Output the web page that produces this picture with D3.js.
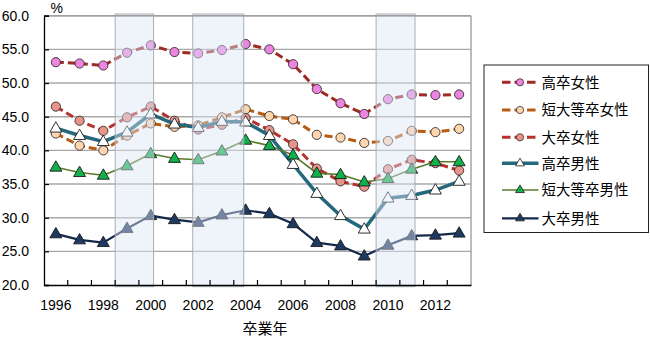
<!DOCTYPE html>
<html>
<head>
<meta charset="utf-8">
<script src="https://cdn.jsdelivr.net/npm/d3@7"></script>
<style>
  html, body { margin: 0; padding: 0; background: #fff; }
  svg { display: block; }
  .num { font-family: "Liberation Sans", Arial, sans-serif; }
  .jp { font-family: "Noto Sans CJK JP", "Noto Sans", sans-serif; }
</style>
</head>
<body>
<svg id="chart" width="650" height="339"></svg>
<script>
// Graduation years and rates (%) by education and gender
const years = d3.range(1996, 2014);
const seriesNames = ["高卒女性", "短大等卒女性", "大卒女性", "高卒男性", "短大等卒男性", "大卒男性"];
const hsFemale  = [53.1, 52.9, 52.6, 54.5, 55.6, 54.6, 54.4, 54.9, 55.8, 55.0, 52.8, 49.1, 47.0, 45.4, 47.6, 48.3, 48.2, 48.3];
const jcFemale  = [42.5, 40.7, 40.0, 42.2, 44.0, 43.5, 43.7, 44.9, 46.1, 45.1, 44.6, 42.3, 41.9, 41.1, 41.4, 42.9, 42.7, 43.2];
const uniFemale = [46.5, 44.4, 42.9, 44.9, 46.5, 44.4, 43.1, 43.8, 44.8, 43.0, 40.9, 37.3, 35.4, 34.6, 37.2, 38.6, 38.1, 37.0];
const hsMale    = [43.3, 42.2, 41.3, 42.7, 45.4, 43.9, 43.4, 44.3, 44.2, 42.2, 37.9, 33.6, 30.3, 28.3, 32.9, 33.3, 34.1, 35.4];
const jcMale    = [37.5, 36.7, 36.3, 37.7, 39.5, 38.8, 38.6, 39.9, 41.5, 40.7, 39.3, 36.6, 36.4, 35.3, 35.8, 37.2, 38.3, 38.3];
const uniMale   = [27.6, 26.7, 26.3, 28.4, 30.3, 29.7, 29.3, 30.4, 31.1, 30.6, 29.1, 26.3, 25.8, 24.3, 25.9, 27.3, 27.4, 27.7];
const yTicks = [20, 25, 30, 35, 40, 45, 50, 55, 60];
const xLabelYears = [1996, 1998, 2000, 2002, 2004, 2006, 2008, 2010, 2012];
// Shaded periods, in fractional graduation years
const shadeStart = [1998.5, 2001.77, 2009.5];
const shadeEnd   = [2000.12, 2003.92, 2011.14];

const seriesValues = [hsFemale, jcFemale, uniFemale, hsMale, jcMale, uniMale];
const styles = [
  { line: "#9e2a26", fill: "#ec84e2", dash: "8,4", width: 3,   shape: "circle" },
  { line: "#b85c12", fill: "#fdd6b0", dash: "8,4", width: 3,   shape: "circle" },
  { line: "#b5322e", fill: "#e7958b", dash: "8,4", width: 3,   shape: "circle" },
  { line: "#23687b", fill: "#ffffff", dash: null,  width: 3.5, shape: "triangle" },
  { line: "#5b7a2a", fill: "#10b04a", dash: null,  width: 1.6, shape: "triangle" },
  { line: "#14294a", fill: "#1e3a62", dash: null,  width: 2.2, shape: "triangle" }
];

const svg = d3.select("#chart");
const plotL = 44, plotR = 471, plotT = 15.7, plotB = 285;

const x = d3.scaleBand().domain(years).range([plotL, plotR]).padding(0);
const step = x.step();
const xc = yr => x(yr) + step / 2;
const xLin = d3.scaleLinear().domain([1996, 2013]).range([xc(1996), xc(2013)]);
const y = d3.scaleLinear().domain([20, 60]).range([plotB, plotT]);

// Horizontal gridlines
svg.append("g").selectAll("line").data(yTicks.filter(v => v > 20)).join("line")
  .attr("x1", plotL).attr("x2", plotR)
  .attr("y1", d => y(d)).attr("y2", d => y(d))
  .attr("stroke", "#a8a8a8").attr("stroke-width", 1.4);

// Right frame
svg.append("line").attr("x1", plotR).attr("x2", plotR).attr("y1", plotT).attr("y2", plotB)
  .attr("stroke", "#a0a0a0").attr("stroke-width", 1.4);

// Series lines and markers
const lineGen = d3.line().x((d, i) => xc(years[i])).y(d => y(d));
const triangle = d3.symbol().type(d3.symbolTriangle).size(62);

seriesValues.forEach((vals, si) => {
  const st = styles[si];
  const g = svg.append("g");
  g.append("path").datum(vals)
    .attr("d", lineGen)
    .attr("fill", "none")
    .attr("stroke", st.line)
    .attr("stroke-width", st.width)
    .attr("stroke-dasharray", st.dash)
    .attr("stroke-linejoin", "round");
  if (st.shape === "circle") {
    g.selectAll("circle").data(vals).join("circle")
      .attr("cx", (d, i) => xc(years[i])).attr("cy", d => y(d))
      .attr("r", 4.6)
      .attr("fill", st.fill).attr("stroke", "#3a2a2a").attr("stroke-width", 0.9);
  } else {
    g.selectAll("path.m").data(vals).join("path").attr("class", "m")
      .attr("d", triangle)
      .attr("transform", (d, i) => `translate(${xc(years[i])},${y(d) + 0.5})`)
      .attr("fill", st.fill).attr("stroke", "#1a1a1a").attr("stroke-width", 0.9);
  }
});

// Shaded periods overlay
svg.append("g").selectAll("rect").data(shadeStart).join("rect")
  .attr("x", (d, i) => xLin(d))
  .attr("width", (d, i) => xLin(shadeEnd[i]) - xLin(d))
  .attr("y", plotT - 1.7).attr("height", plotB - plotT + 3.4)
  .attr("fill", "#dbe5f3").attr("fill-opacity", 0.45)
  .attr("stroke", "#a9aeb5").attr("stroke-width", 1);

// Top frame
svg.append("line").attr("x1", plotL).attr("x2", plotR).attr("y1", plotT).attr("y2", plotT)
  .attr("stroke", "#a0a0a0").attr("stroke-width", 1.4);

// Y axis
const yAxis = svg.append("g").attr("transform", `translate(${plotL},0)`)
  .call(d3.axisLeft(y).tickValues(yTicks).tickFormat(d3.format(".1f")).tickSize(-5).tickPadding(14));
yAxis.select(".domain").attr("stroke", "#000").attr("stroke-width", 1.3);
yAxis.selectAll(".tick line").attr("stroke", "#000").attr("stroke-width", 1.2);
yAxis.selectAll("text").attr("class", "num").attr("font-size", 14).attr("fill", "#000")
  .attr("x", -15);

// X axis: tick marks on category boundaries, labels every two years
svg.append("g").selectAll("line").data(years.slice(1)).join("line")
  .attr("x1", d => x(d)).attr("x2", d => x(d))
  .attr("y1", plotB).attr("y2", plotB - 5)
  .attr("stroke", "#000").attr("stroke-width", 1.2);
const xAxis = svg.append("g").attr("transform", `translate(0,${plotB})`)
  .call(d3.axisBottom(x).tickValues(xLabelYears).tickSize(0).tickPadding(15));
xAxis.select(".domain").attr("stroke", "#000").attr("stroke-width", 1.3);
xAxis.selectAll("text").attr("class", "num").attr("font-size", 14).attr("fill", "#000");

// Axis titles
svg.append("text").attr("class", "num").attr("x", 50.5).attr("y", 12.5)
  .attr("font-size", 14).text("%");
svg.append("text").attr("class", "jp").attr("x", 265).attr("y", 334)
  .attr("text-anchor", "middle").attr("font-size", 15).text("卒業年");

// Legend
const lg = svg.append("g");
lg.append("rect").attr("x", 484).attr("y", 65).attr("width", 164.5).attr("height", 167.5)
  .attr("fill", "#fff").attr("stroke", "#222").attr("stroke-width", 1);
const legendY = [82.3, 110, 137.3, 163.3, 190, 218.3];
seriesNames.forEach((name, si) => {
  const st = styles[si];
  const ly = legendY[si];
  const item = lg.append("g");
  item.append("line").attr("x1", 502).attr("x2", 538.5).attr("y1", ly).attr("y2", ly)
    .attr("stroke", st.line).attr("stroke-width", st.width)
    .attr("stroke-dasharray", st.dash ? "8.5,4" : null);
  if (st.shape === "circle") {
    item.append("circle").attr("cx", 520).attr("cy", ly).attr("r", 3.6)
      .attr("fill", st.fill).attr("stroke", "#3a2a2a").attr("stroke-width", 0.8);
  } else {
    item.append("path").attr("d", d3.symbol().type(d3.symbolTriangle).size(34))
      .attr("transform", `translate(520,${ly})`)
      .attr("fill", st.fill).attr("stroke", "#1a1a1a").attr("stroke-width", 0.8);
  }
  item.append("text").attr("class", "jp").attr("x", 541.5).attr("y", ly + 5.3)
    .attr("font-size", 14.5).attr("fill", "#000").text(name);
});
</script>
</body>
</html>
